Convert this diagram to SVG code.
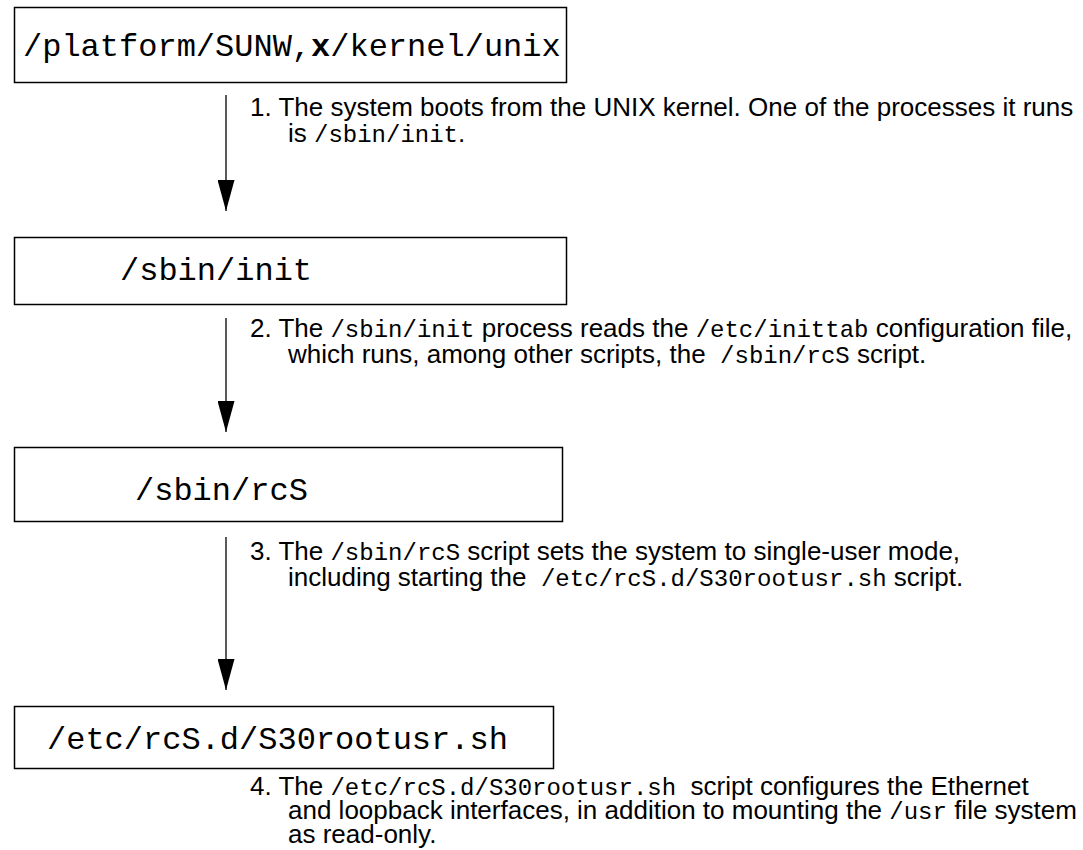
<svg xmlns="http://www.w3.org/2000/svg" width="1083" height="850" viewBox="0 0 1083 850">
<defs>
<style>
.box{fill:#fff;stroke:#000;stroke-width:1.5}
.bt{font-family:"Liberation Mono","DejaVu Sans Mono",monospace;font-size:32px;fill:#000}
.lb{font-family:"Liberation Sans",Arial,sans-serif;font-size:26px;fill:#000}
.m{font-family:"Liberation Mono","DejaVu Sans Mono",monospace;font-size:24px}
.conn{stroke:#000;stroke-width:1.3;fill:none}
</style>
<marker id="ah" markerUnits="userSpaceOnUse" markerWidth="31" markerHeight="17" refX="31" refY="8.5" orient="auto" viewBox="0 0 31 17">
<path d="M0,0 L31,8.5 L0,17 Z" fill="#000"/>
</marker>
</defs>
<rect width="1083" height="850" fill="#fff"/>
<g id="connectors">
<line class="conn" x1="226" y1="95" x2="226" y2="211" marker-end="url(#ah)"/>
<line class="conn" x1="226" y1="318" x2="226" y2="432" marker-end="url(#ah)"/>
<line class="conn" x1="226" y1="537" x2="226" y2="690" marker-end="url(#ah)"/>
</g>
<g id="node-kernel">
<rect class="box" x="14.5" y="7.5" width="552" height="75"/>
<text class="bt" x="23" y="56">/platform/SUNW,<tspan font-weight="bold">x</tspan>/kernel/unix</text>
</g>
<g id="node-init">
<rect class="box" x="14.5" y="237.5" width="552" height="67"/>
<text class="bt" x="120" y="280">/sbin/init</text>
</g>
<g id="node-rcS">
<rect class="box" x="14.5" y="447.5" width="548" height="74"/>
<text class="bt" x="135" y="500">/sbin/rcS</text>
</g>
<g id="node-rootusr">
<rect class="box" x="14.5" y="706.5" width="539" height="62"/>
<text class="bt" x="47" y="749">/etc/rcS.d/S30rootusr.sh</text>
</g>
<g id="label-1">
<text class="lb" x="250" y="116">1. The system boots from the UNIX kernel. One of the processes it runs</text>
<text class="lb" x="288" y="142">is <tspan class="m">/sbin/init</tspan>.</text>
</g>
<g id="label-2">
<text class="lb" x="250" y="337">2. The <tspan class="m">/sbin/init</tspan> process reads the <tspan class="m">/etc/inittab</tspan> configuration file,</text>
<text class="lb" x="288" y="363" xml:space="preserve">which runs, among other scripts, the  <tspan class="m">/sbin/rcS</tspan> script.</text>
</g>
<g id="label-3">
<text class="lb" x="250" y="560">3. The <tspan class="m">/sbin/rcS</tspan> script sets the system to single-user mode,</text>
<text class="lb" x="288" y="586" xml:space="preserve">including starting the  <tspan class="m">/etc/rcS.d/S30rootusr.sh</tspan> script.</text>
</g>
<g id="label-4">
<text class="lb" x="250" y="795" xml:space="preserve">4. The <tspan class="m">/etc/rcS.d/S30rootusr.sh</tspan>  script configures the Ethernet</text>
<text class="lb" x="288" y="819">and loopback interfaces, in addition to mounting the <tspan class="m">/usr</tspan> file system</text>
<text class="lb" x="288" y="843">as read-only.</text>
</g>
</svg>
